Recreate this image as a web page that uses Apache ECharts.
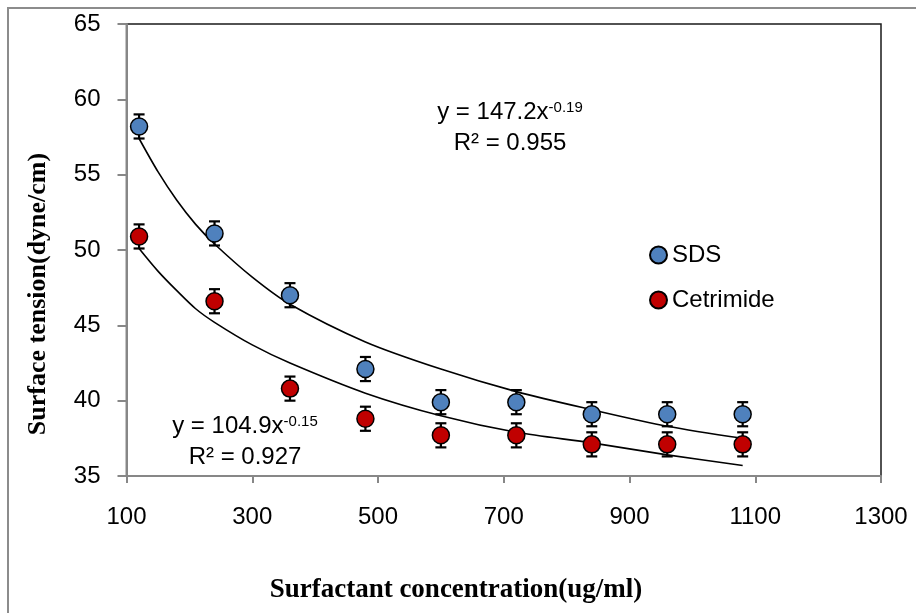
<!DOCTYPE html>
<html>
<head>
<meta charset="utf-8">
<script src="https://cdn.jsdelivr.net/npm/echarts@6/dist/echarts.min.js"></script>
<style>html,body{margin:0;padding:0;background:#fff;}#c{width:916px;height:613px;}</style>
</head>
<body>
<div id="c"></div>
<script>
// ---- data ----
const conc = [120, 240, 360, 480, 600, 720, 840, 960, 1080];
const sds = [58.2, 51.1, 47.0, 42.1, 39.9, 39.9, 39.1, 39.1, 39.1];
const cetrimide = [50.9, 46.6, 40.8, 38.8, 37.7, 37.7, 37.1, 37.1, 37.1];
const sdsErr = [0.8, 0.8, 0.8, 0.8, 0.8, 0.8, 0.8, 0.8, 0.8];
const cetErr = [0.8, 0.8, 0.8, 0.8, 0.8, 0.8, 0.8, 0.8, 0.8];
// trend lines as drawn in the picture
const fitX = [120, 150, 180, 210, 240, 300, 360, 480, 600, 720, 840, 960, 1080];
const sdsFit = [57.4, 55.2, 53.3, 51.7, 50.4, 48.2, 46.4, 43.9, 42.1, 40.6, 39.4, 38.3, 37.5];
const cetFit = [50.1, 48.6, 47.3, 46.1, 45.2, 43.7, 42.5, 40.5, 39.0, 37.9, 37.2, 36.4, 35.7];
const seriesNames = ['SDS', 'Cetrimide'];
const colors = ['#4F81BD', '#C00000'];
const xTicks = {min: 100, max: 1300, interval: 200};
const yTicks = {min: 35, max: 65, interval: 5};

const FONT = '"Liberation Sans", Arial, sans-serif';
const SERIF = '"Liberation Serif", "Times New Roman", serif';

function errSeries(vals, errs) {
  return {
    type: 'custom',
    data: conc.map((c, i) => [c, vals[i], errs[i]]),
    encode: {x: 0, y: 1},
    z: 2,
    silent: true,
    renderItem: function (params, api) {
      const x = api.value(0), y = api.value(1), e = api.value(2);
      const t = api.coord([x, y + e]);
      const b = api.coord([x, y - e]);
      const w = 5.5;
      const st = {stroke: '#000', lineWidth: 2.2};
      return {
        type: 'group',
        children: [
          {type: 'line', shape: {x1: t[0], y1: t[1], x2: b[0], y2: b[1]}, style: st},
          {type: 'line', shape: {x1: t[0] - w, y1: t[1], x2: t[0] + w, y2: t[1]}, style: st},
          {type: 'line', shape: {x1: b[0] - w, y1: b[1], x2: b[0] + w, y2: b[1]}, style: st}
        ]
      };
    }
  };
}

function fitSeries(vals) {
  return {
    type: 'line',
    data: fitX.map((x, i) => [x, vals[i]]),
    smooth: 0.3,
    showSymbol: false,
    symbol: 'none',
    silent: true,
    z: 1,
    lineStyle: {color: '#000', width: 1.6}
  };
}

function eqText(cx, cy, coef, exp, r2) {
  return {
    type: 'text',
    x: cx, y: cy,
    style: {
      text: '{m|y = ' + coef + 'x}{s|' + exp + '}\n{m|R² = ' + r2 + '}',
      align: 'center', textAlign: 'center',
      verticalAlign: 'middle', textVerticalAlign: 'middle',
      fill: '#000',
      rich: {
        m: {font: '24px ' + FONT, lineHeight: 31, verticalAlign: 'bottom', fill: '#000'},
        s: {font: '15px ' + FONT, lineHeight: 18, verticalAlign: 'top', padding: [7, 0, 0, 0], fill: '#000'}
      }
    }
  };
}

const chart = echarts.init(document.getElementById('c'), null, {renderer: 'canvas'});
chart.setOption({
  animation: false,
  backgroundColor: '#fff',
  grid: {left: 126.5, top: 24, right: 35, bottom: 137, show: true, borderColor: '#1a1a1a', borderWidth: 1.5, containLabel: false},
  xAxis: {
    type: 'value', min: xTicks.min, max: xTicks.max, interval: xTicks.interval,
    axisLine: {show: true, lineStyle: {color: '#878787', width: 2}},
    axisTick: {show: true, length: 7, inside: false, lineStyle: {color: '#878787', width: 2}},
    axisLabel: {color: '#000', fontSize: 24, fontFamily: FONT, margin: 29, formatter: function (v) { return String(v); }},
    splitLine: {show: false}
  },
  yAxis: {
    type: 'value', min: yTicks.min, max: yTicks.max, interval: yTicks.interval,
    axisLine: {show: true, lineStyle: {color: '#878787', width: 2}},
    axisTick: {show: true, length: 9, inside: false, lineStyle: {color: '#878787', width: 2}},
    axisLabel: {color: '#000', fontSize: 24, fontFamily: FONT, margin: 26, formatter: function (v) { return String(v); }},
    splitLine: {show: false}
  },
  legend: {
    data: seriesNames,
    orient: 'vertical',
    left: 644, top: 238,
    itemWidth: 17, itemHeight: 17,
    itemGap: 21,
    icon: 'circle',
    textStyle: {fontSize: 24, fontFamily: FONT, color: '#000'},
    selectedMode: false
  },
  series: [
    fitSeries(sdsFit),
    fitSeries(cetFit),
    errSeries(sds, sdsErr),
    errSeries(cetrimide, cetErr),
    {
      name: seriesNames[0], type: 'scatter', z: 3,
      data: conc.map((c, i) => [c, sds[i]]),
      symbol: 'circle', symbolSize: 17,
      itemStyle: {color: colors[0], borderColor: '#000', borderWidth: 1.5, opacity: 1}
    },
    {
      name: seriesNames[1], type: 'scatter', z: 3,
      data: conc.map((c, i) => [c, cetrimide[i]]),
      symbol: 'circle', symbolSize: 17,
      itemStyle: {color: colors[1], borderColor: '#000', borderWidth: 1.5, opacity: 1}
    }
  ],
  graphic: [
    {type: 'rect', silent: true, z: -10, shape: {x: 8, y: 8, width: 1400, height: 1400}, style: {fill: 'none', stroke: '#8c8c8c', lineWidth: 2}},
    eqText(510, 124, '147.2', '-0.19', '0.955'),
    eqText(245, 438, '104.9', '-0.15', '0.927'),
    {type: 'text', x: 456, y: 590, style: {text: 'Surfactant concentration(ug/ml)', font: 'bold 27px ' + SERIF, fill: '#000', align: 'center', textAlign: 'center', verticalAlign: 'middle', textVerticalAlign: 'middle'}},
    {type: 'text', x: 38, y: 294, rotation: Math.PI / 2, style: {text: 'Surface tension(dyne/cm)', font: 'bold 26px ' + SERIF, fill: '#000', align: 'center', textAlign: 'center', verticalAlign: 'middle', textVerticalAlign: 'middle'}}
  ]
});
</script>
</body>
</html>
